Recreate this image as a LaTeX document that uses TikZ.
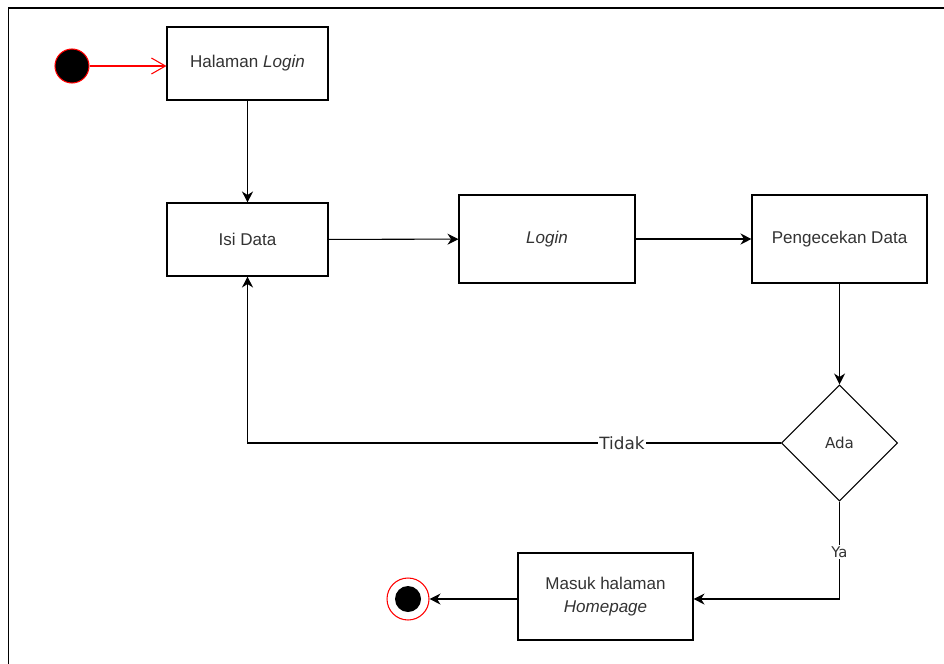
\documentclass[tikz,border=0pt]{standalone}
\usepackage{fontspec}
\setmainfont{Liberation Sans}
\newfontfamily\lblfont{DejaVu Sans}
\usetikzlibrary{arrows.meta, shapes.geometric}
\definecolor{teks}{RGB}{51, 51, 51}
\definecolor{merah}{RGB}{255, 0, 0}

\begin{document}
\begin{tikzpicture}[
        box/.style={rectangle, draw=black, line width=0.6pt, fill=white, text=teks, align=center, font=\fontsize{9.7}{13}\selectfont, inner sep=2pt},
        cabang/.style={diamond, draw=black, line width=0.6pt, aspect=1, minimum width=2.32cm, minimum height=2.32cm, inner sep=0pt, text=teks, font=\lblfont\fontsize{8.6}{10}\selectfont},
        mulai/.style={circle, draw=merah, fill=black, line width=0.6pt, minimum size=0.68cm, inner sep=0pt},
        akhir/.style={circle, draw=merah, fill=white, line width=0.6pt, minimum size=0.84cm, inner sep=0pt},
        alur/.style={-{Stealth[length=2.2mm, width=2.2mm]}, line width=0.6pt},
        lbl/.style={fill=white, text=teks, inner sep=1pt, font=\lblfont}
      ]
        \useasboundingbox (0,0) rectangle (18.88,-13.28);
        \draw[line width=1.1pt] (0.17,-13.4) -- (0.17,-0.16) -- (19,-0.16);
        % node
        \node[mulai] (start) at (1.44,-1.32) {};
        \node[box, minimum width=3.22cm, minimum height=1.46cm] (hal) at (4.95,-1.27) {Halaman \textit{Login}};
        \node[box, minimum width=3.22cm, minimum height=1.46cm] (isi) at (4.95,-4.79) {Isi Data};
        \node[box, minimum width=3.52cm, minimum height=1.76cm] (login) at (10.94,-4.78) {\textit{Login}};
        \node[box, minimum width=3.5cm, minimum height=1.76cm] (cek) at (16.79,-4.78) {Pengecekan Data};
        \node[cabang] (ada) at (16.79,-8.86) {Ada};
        \node[box, minimum width=3.5cm, minimum height=1.74cm] (masuk) at (12.11,-11.93) {Masuk halaman\\\textit{Homepage}};
        \node[akhir] (end) at (8.16,-11.98) {};
        \node[circle, fill=black, minimum size=0.52cm, inner sep=0pt] (endin) at (end.center) {};
        % alur
        \draw[-{Straight Barb[length=2.8mm, width=3.2mm]}, merah, line width=0.6pt] (start) -- (hal.west |- start);
        \draw[alur] (hal) -- (isi);
        \draw[alur] (isi) -- (login);
        \draw[alur] (login) -- (cek);
        \draw[alur] (cek) -- (ada);
        \draw[alur] (ada.west) -| node[lbl, pos=0.149, font=\lblfont\fontsize{9.6}{11}\selectfont] {Tidak} (isi.south);
        \draw[alur] (ada.south) |- node[lbl, pos=0.26, font=\lblfont\fontsize{8.4}{10}\selectfont] {Ya} (masuk.east |- end);
        \draw[alur] (masuk.west |- end) -- (end);
      \end{tikzpicture}
\end{document}
